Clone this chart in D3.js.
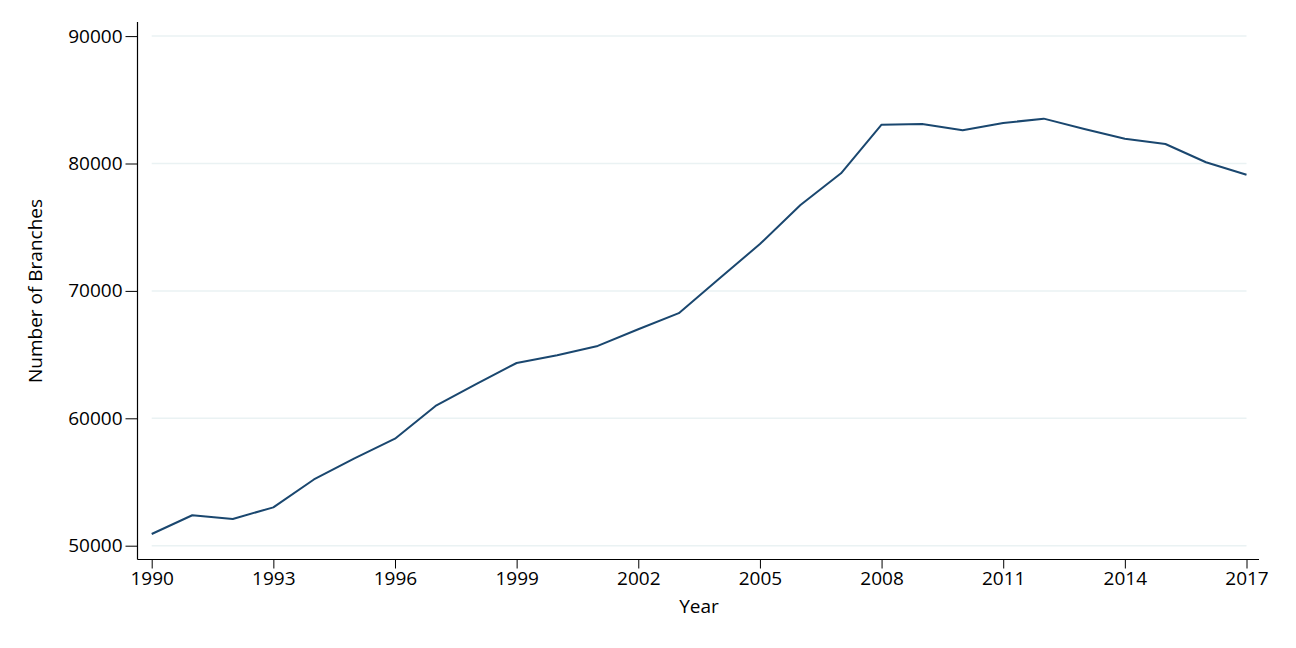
<!DOCTYPE html>
<html>
<head>
<meta charset="utf-8">
<script src="https://cdn.jsdelivr.net/npm/d3@7"></script>
<style>
  html, body { margin: 0; padding: 0; background: #fff; }
  svg { display: block; font-family: "Open Sans", "Noto Sans", sans-serif; }
</style>
</head>
<body>
<svg id="chart" width="1296" height="648"></svg>
<script>
const years = [1990,1991,1992,1993,1994,1995,1996,1997,1998,1999,2000,2001,2002,2003,2004,2005,2006,2007,2008,2009,2010,2011,2012,2013,2014,2015,2016,2017];
const branches = [50920,52390,52100,53010,55200,56860,58400,60970,62690,64340,64950,65680,66990,68250,70970,73680,76740,79230,83050,83100,82610,83180,83520,82710,81950,81530,80100,79120];
const xTicks = [1990,1993,1996,1999,2002,2005,2008,2011,2014,2017];
const yTicks = [50000,60000,70000,80000,90000];

const svg = d3.select("#chart");
const x = d3.scaleLinear().domain([1990, 2017]).range([151.7, 1246.5]);
const y = d3.scaleLinear().domain([50000, 90000]).range([545.7, 36.1]);

const axisLeftX = 137.5, axisBottomY = 559.5;
const fs = 19;

// gridlines
svg.append("g").selectAll("line").data(yTicks).join("line")
  .attr("x1", x(1990)).attr("x2", x(2017))
  .attr("y1", d => y(d)).attr("y2", d => y(d))
  .attr("stroke", "#eaf2f3").attr("stroke-width", 1.5);

// y axis
const yAxis = svg.append("g").attr("transform", `translate(${axisLeftX},0)`)
  .call(d3.axisLeft(y).tickValues(yTicks).tickFormat(d3.format("d")).tickSize(12).tickSizeOuter(0).tickPadding(3));
yAxis.select(".domain").remove();
svg.append("line").attr("x1", axisLeftX).attr("x2", axisLeftX).attr("y1", 22).attr("y2", axisBottomY)
  .attr("stroke", "#000").attr("stroke-width", 1.2);

// x axis
const xAxis = svg.append("g").attr("transform", `translate(0,${axisBottomY})`)
  .call(d3.axisBottom(x).tickValues(xTicks).tickFormat(d3.format("d")).tickSize(9).tickSizeOuter(0).tickPadding(3));
xAxis.select(".domain").remove();
svg.append("line").attr("x1", axisLeftX).attr("x2", 1259).attr("y1", axisBottomY).attr("y2", axisBottomY)
  .attr("stroke", "#000").attr("stroke-width", 1.2);

svg.selectAll(".tick line").attr("stroke", "#000").attr("stroke-width", 1);
svg.selectAll(".tick text").attr("font-size", fs).attr("fill", "#000")
  .attr("font-family", "'Open Sans', 'Noto Sans', sans-serif");

// axis titles
svg.append("text").attr("x", 699).attr("y", 613).attr("text-anchor", "middle")
  .attr("font-size", fs).attr("fill", "#000").text("Year");
svg.append("text").attr("transform", "translate(42,291) rotate(-90)").attr("text-anchor", "middle")
  .attr("font-size", fs).attr("fill", "#000").text("Number of Branches");

// line
const data = years.map((yr, i) => ({ yr, v: branches[i] }));
svg.append("path").datum(data)
  .attr("fill", "none").attr("stroke", "#1a476f").attr("stroke-width", 2)
  .attr("stroke-linejoin", "round")
  .attr("d", d3.line().x(d => x(d.yr)).y(d => y(d.v)));
</script>
</body>
</html>
